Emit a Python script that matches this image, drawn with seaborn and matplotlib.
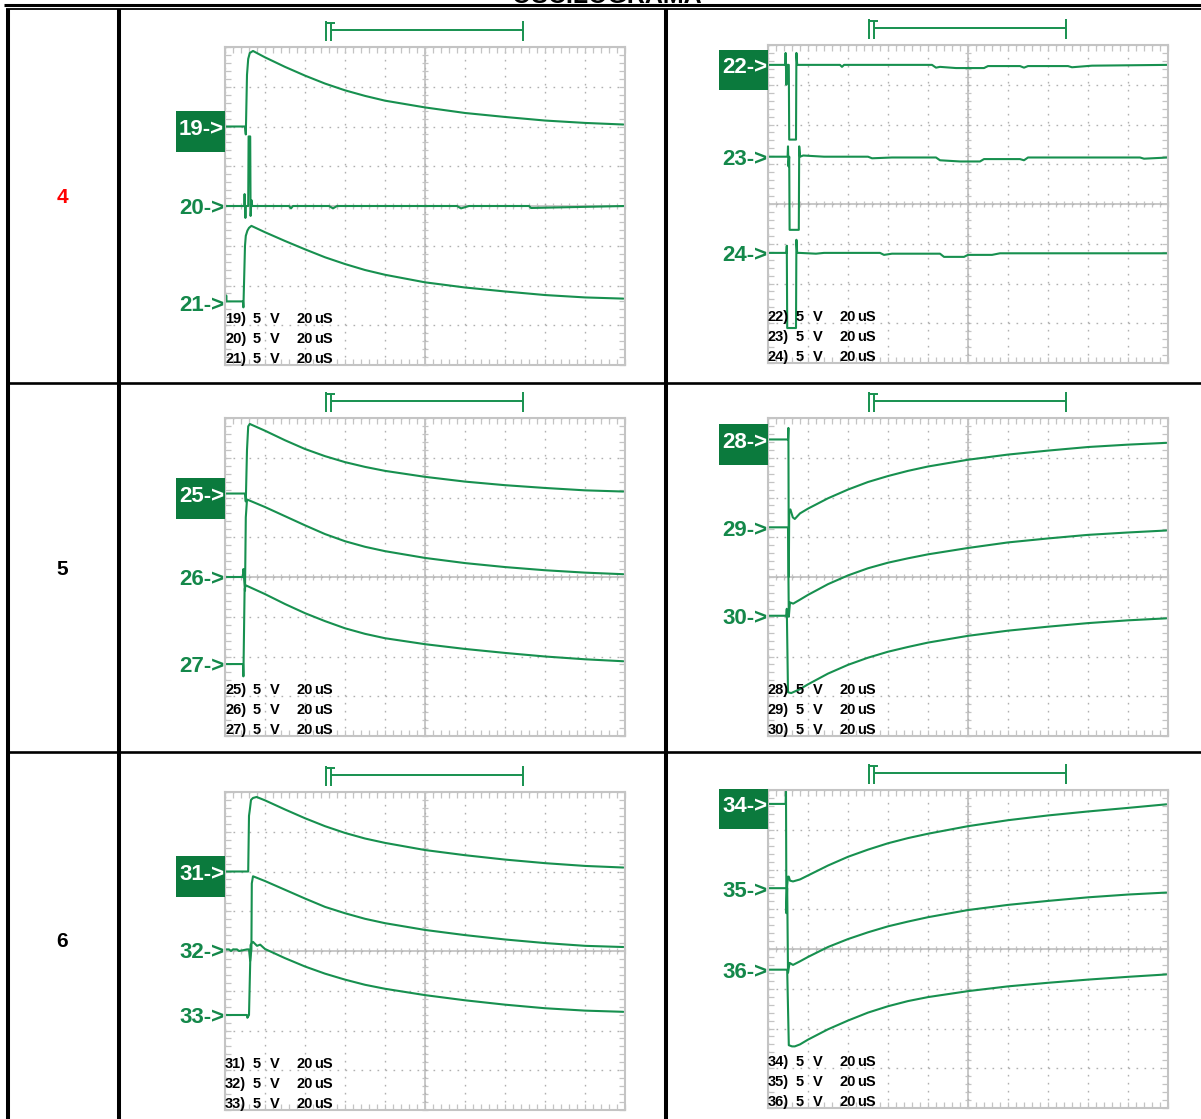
import matplotlib
matplotlib.use("Agg")
import matplotlib.pyplot as plt
from matplotlib.patches import Rectangle
from matplotlib.ticker import MultipleLocator
import seaborn as sns

# ---------------- data (units = scope divisions) ----------------
title = "OSCILOGRAMA"
row_labels = ["4", "5", "6"]
row_label_colors = ["#ff0000", "#000000", "#000000"]
volts_per_div = "5 V"
time_per_div = "20 uS"
trigger_start = 2.52
trigger_end = 7.46

ch19_t = [0, 0.50, 0.52, 0.55, 0.58, 0.62, 0.70, 1.0, 1.5, 2.0, 2.5, 3.0, 3.5, 4.0, 5.0, 6.0, 7.0, 8.0, 9.0, 9.96]
ch19_v = [2.0, 2.0, 1.8, 3.3, 3.7, 3.85, 3.9, 3.74, 3.50, 3.28, 3.08, 2.91, 2.77, 2.65, 2.48, 2.34, 2.24, 2.15, 2.09, 2.05]
ch20_t = [0, 0.48, 0.49, 0.51, 0.52, 0.58, 0.59, 0.63, 0.64, 0.66, 0.68, 0.72, 1.6, 1.65, 1.7, 2.6, 2.7, 2.8, 5.8, 5.9, 6.1, 7.6, 7.65, 10]
ch20_v = [0, 0, 0.3, -0.3, 0, 0, 1.75, 1.75, -0.25, 0.15, 0, 0, 0, -0.06, 0, 0, -0.06, 0, 0, -0.06, 0, 0, -0.05, 0]
ch21_t = [0, 0.02, 0.03, 0.04, 0.45, 0.46, 0.50, 0.52, 0.56, 0.60, 0.66, 1.0, 1.5, 2.0, 2.5, 3.0, 3.5, 4.0, 5.0, 6.0, 7.0, 8.0, 9.0, 9.96]
ch21_v = [-2.4, -2.4, -2.25, -2.4, -2.4, -2.55, -1.0, -0.75, -0.62, -0.55, -0.5, -0.66, -0.88, -1.09, -1.29, -1.46, -1.61, -1.73, -1.92, -2.05, -2.15, -2.24, -2.30, -2.33]

ch22_t = [0, 0.43, 0.44, 0.46, 0.47, 0.52, 0.53, 0.70, 0.71, 0.73, 0.78, 1.80, 1.85, 1.90, 2.10, 4.10, 4.20, 4.30, 4.70, 5.40, 5.50, 6.30, 6.40, 6.50, 7.50, 7.60, 8.10, 10.0]
ch22_v = [3.5, 3.5, 3.8, 3.0, 3.5, 3.5, 1.62, 1.62, 3.8, 3.5, 3.5, 3.5, 3.45, 3.5, 3.5, 3.5, 3.43, 3.45, 3.42, 3.42, 3.47, 3.47, 3.43, 3.47, 3.47, 3.44, 3.48, 3.5]
ch23_t = [0, 0.49, 0.50, 0.51, 0.53, 0.54, 0.77, 0.78, 0.80, 0.88, 1.4, 2.5, 2.6, 3.1, 4.2, 4.3, 4.8, 5.3, 5.4, 6.3, 6.4, 6.5, 9.3, 9.4, 10]
ch23_v = [1.19, 1.19, 1.45, 0.95, 1.19, -0.65, -0.65, 1.45, 1.19, 1.22, 1.19, 1.19, 1.15, 1.17, 1.17, 1.1, 1.07, 1.07, 1.13, 1.13, 1.1, 1.17, 1.17, 1.14, 1.17]
ch24_t = [0, 0.46, 0.47, 0.48, 0.70, 0.71, 0.73, 0.79, 1.2, 1.4, 2.8, 2.9, 3.1, 4.3, 4.4, 4.9, 5.0, 5.6, 5.8, 10]
ch24_v = [-1.23, -1.23, -1.05, -3.12, -3.12, -0.9, -1.23, -1.23, -1.25, -1.23, -1.23, -1.28, -1.25, -1.25, -1.33, -1.33, -1.28, -1.28, -1.24, -1.24]

ch25_t = [0, 0.50, 0.52, 0.55, 0.58, 0.62, 1.0, 1.5, 2.0, 2.5, 3.0, 3.5, 4.0, 5.0, 6.0, 7.0, 8.0, 9.0, 9.96]
ch25_v = [2.1, 2.1, 1.9, 3.2, 3.79, 3.85, 3.68, 3.44, 3.22, 3.04, 2.89, 2.77, 2.67, 2.52, 2.40, 2.31, 2.24, 2.18, 2.15]
ch26_t = [0, 0.45, 0.46, 0.50, 0.52, 0.55, 1.0, 1.5, 2.0, 2.5, 3.0, 3.5, 4.0, 5.0, 6.0, 7.0, 8.0, 9.0, 9.96]
ch26_v = [0, 0, 0.2, -0.35, 1.5, 1.95, 1.76, 1.53, 1.30, 1.08, 0.90, 0.76, 0.65, 0.48, 0.35, 0.25, 0.17, 0.11, 0.07]
ch27_t = [0, 0.40, 0.45, 0.46, 0.49, 0.52, 1.0, 1.5, 2.0, 2.5, 3.0, 3.5, 4.0, 5.0, 6.0, 7.0, 8.0, 9.0, 9.96]
ch27_v = [-2.19, -2.19, -2.19, -2.5, -0.3, -0.21, -0.43, -0.68, -0.91, -1.11, -1.29, -1.43, -1.54, -1.69, -1.81, -1.91, -2.0, -2.07, -2.12]

ch28_t = [0, 0.50, 0.51, 0.52, 0.53, 0.56, 0.62, 0.67, 0.8, 1.0, 1.5, 2.0, 2.5, 3.0, 3.5, 4.0, 5.0, 6.0, 7.0, 8.0, 9.0, 9.96]
ch28_v = [3.46, 3.46, 3.75, 0.0, 1.6, 1.7, 1.5, 1.46, 1.6, 1.72, 1.98, 2.2, 2.39, 2.54, 2.67, 2.78, 2.95, 3.08, 3.18, 3.27, 3.33, 3.375]
ch29_t = [0, 0.48, 0.50, 0.52, 0.55, 0.63, 0.8, 1.0, 1.5, 2.0, 2.5, 3.0, 3.5, 4.0, 5.0, 6.0, 7.0, 8.0, 9.0, 9.96]
ch29_v = [1.25, 1.25, 1.25, -1.0, -0.64, -0.67, -0.57, -0.45, -0.18, 0.04, 0.22, 0.36, 0.47, 0.57, 0.73, 0.87, 0.97, 1.06, 1.12, 1.17]
ch30_t = [0, 0.46, 0.47, 0.50, 0.58, 0.8, 1.0, 1.5, 2.0, 2.5, 3.0, 3.5, 4.0, 5.0, 6.0, 7.0, 8.0, 9.0, 9.96]
ch30_v = [-0.975, -0.975, -0.8, -2.9, -2.92, -2.82, -2.7, -2.43, -2.21, -2.03, -1.88, -1.76, -1.65, -1.48, -1.35, -1.25, -1.16, -1.09, -1.04]

ch31_t = [0, 0.58, 0.60, 0.62, 0.65, 0.70, 0.79, 1.0, 1.5, 2.0, 2.5, 3.0, 3.5, 4.0, 5.0, 6.0, 7.0, 8.0, 9.0, 9.96]
ch31_v = [2.0, 2.0, 3.4, 3.55, 3.8, 3.85, 3.875, 3.79, 3.56, 3.34, 3.14, 2.97, 2.83, 2.72, 2.54, 2.41, 2.30, 2.21, 2.14, 2.10]
ch32_t = [0, 0.1, 0.15, 0.2, 0.3, 0.35, 0.55, 0.60, 0.63, 0.66, 0.67, 0.70, 1.0, 1.5, 2.0, 2.5, 3.0, 3.5, 4.0, 5.0, 6.0, 7.0, 8.0, 9.0, 9.96]
ch32_v = [0.04, 0.04, 0.0, 0.04, 0.04, 0.0, 0.04, 0.04, -0.25, 0.04, 1.7, 1.88, 1.76, 1.54, 1.32, 1.11, 0.95, 0.81, 0.70, 0.53, 0.40, 0.29, 0.20, 0.13, 0.10]
ch33_t = [0, 0.55, 0.56, 0.60, 0.64, 0.66, 0.70, 0.80, 0.88, 1.0, 1.5, 2.0, 2.5, 3.0, 3.5, 4.0, 5.0, 6.0, 7.0, 8.0, 9.0, 9.96]
ch33_v = [-1.61, -1.61, -1.68, -1.61, 0.15, 0.19, 0.23, 0.13, 0.16, 0.05, -0.18, -0.39, -0.57, -0.72, -0.85, -0.95, -1.11, -1.24, -1.35, -1.44, -1.50, -1.53]

ch34_t = [0, 0.44, 0.45, 0.46, 0.48, 0.50, 0.52, 0.55, 0.625, 0.8, 1.0, 1.5, 2.0, 2.5, 3.0, 3.5, 4.0, 5.0, 6.0, 7.0, 8.0, 9.0, 9.96]
ch34_v = [3.65, 3.65, 3.96, 0.9, 1.6, 1.82, 1.82, 1.72, 1.70, 1.75, 1.85, 2.10, 2.32, 2.50, 2.66, 2.79, 2.90, 3.09, 3.24, 3.36, 3.46, 3.55, 3.64]
ch35_t = [0, 0.47, 0.48, 0.50, 0.54, 0.625, 0.8, 1.0, 1.5, 2.0, 2.5, 3.0, 3.5, 4.0, 5.0, 6.0, 7.0, 8.0, 9.0, 9.96]
ch35_v = [1.53, 1.53, 1.53, -0.6, -0.35, -0.4, -0.31, -0.2, 0.05, 0.25, 0.42, 0.57, 0.69, 0.80, 0.98, 1.11, 1.21, 1.30, 1.37, 1.42]
ch36_t = [0, 0.47, 0.48, 0.52, 0.60, 0.67, 0.8, 1.0, 1.5, 2.0, 2.5, 3.0, 3.5, 4.0, 5.0, 6.0, 7.0, 8.0, 9.0, 9.96]
ch36_v = [-0.52, -0.52, -0.52, -2.42, -2.45, -2.45, -2.40, -2.28, -2.02, -1.80, -1.60, -1.44, -1.31, -1.21, -1.06, -0.94, -0.85, -0.77, -0.70, -0.64]

channel_offsets = {19: 2.0, 20: 0.0, 21: -2.42, 22: 3.5, 23: 1.19, 24: -1.23,
                   25: 2.1, 26: 0.0, 27: -2.19, 28: 3.46, 29: 1.25, 30: -0.975,
                   31: 2.0, 32: 0.04, 33: -1.61, 34: 3.65, 35: 1.53, 36: -0.52}
panel_channels = [[19, 20, 21], [22, 23, 24], [25, 26, 27],
                  [28, 29, 30], [31, 32, 33], [34, 35, 36]]

traces = {
    19: (ch19_t, ch19_v), 20: (ch20_t, ch20_v), 21: (ch21_t, ch21_v),
    22: (ch22_t, ch22_v), 23: (ch23_t, ch23_v), 24: (ch24_t, ch24_v),
    25: (ch25_t, ch25_v), 26: (ch26_t, ch26_v), 27: (ch27_t, ch27_v),
    28: (ch28_t, ch28_v), 29: (ch29_t, ch29_v), 30: (ch30_t, ch30_v),
    31: (ch31_t, ch31_v), 32: (ch32_t, ch32_v), 33: (ch33_t, ch33_v),
    34: (ch34_t, ch34_v), 35: (ch35_t, ch35_v), 36: (ch36_t, ch36_v),
}

# ---------------- layout / style ----------------
W_PX, H_PX = 1201, 1119
panel_px = [(225, 47), (768, 45), (225, 418), (768, 418), (225, 792), (768, 790)]
PW, PH = 400, 318
TRACE = "#17904f"
LABEL = "#14884a"
BOX = "#0b7a3d"
GRID = "#c4c4c4"
DOT = "#b0b0b0"

sns.set_theme(style="white")
plt.rcParams["font.family"] = ["Liberation Sans", "DejaVu Sans"]

fig = plt.figure(figsize=(W_PX / 100, H_PX / 100), dpi=100)
fig.patch.set_facecolor("white")

# background axes for the table (pixel coordinates)
bg = fig.add_axes([0, 0, 1, 1], zorder=-5)
bg.set_xlim(0, W_PX)
bg.set_ylim(H_PX, 0)
bg.axis("off")


def hline(y, x0, x1, lw):
    bg.plot([x0, x1], [y, y], color="black", lw=lw, solid_capstyle="butt")


def vline(x, y0, y1, lw):
    bg.plot([x, x], [y0, y1], color="black", lw=lw, solid_capstyle="butt")


hline(5.4, 4, W_PX, 2.2)
hline(9.4, 6, W_PX, 1.3)
vline(8, 8.5, H_PX, 2.9)
vline(118.7, 9, H_PX, 2.9)
vline(666.3, 9, H_PX, 2.9)
hline(383, 8, W_PX, 1.9)
hline(752, 8, W_PX, 1.9)

# the table title is cut by the top edge, as in the source picture
bg.text(607, 3.0, title, ha="center", va="baseline", fontsize=18,
        fontweight="bold", color="black")
for lab, col, yc in zip(row_labels, row_label_colors, [196, 568, 940]):
    bg.text(62, yc + 7, lab, ha="center", va="baseline", fontsize=15,
            fontweight="bold", color=col)


def fig_rect(px, py):
    return [px / W_PX, 1 - (py + PH) / H_PX, PW / W_PX, PH / H_PX]


for (px, py), chans in zip(panel_px, panel_channels):
    rect = fig_rect(px, py)

    # bottom layer: white face + centre cross with ticks
    axc = fig.add_axes(rect, zorder=0)
    axc.set_facecolor("white")
    axc.set_xlim(0, 10)
    axc.set_ylim(-4, 4)
    axc.spines["left"].set_position(("data", 5))
    axc.spines["bottom"].set_position(("data", 0))
    axc.spines["top"].set_visible(False)
    axc.spines["right"].set_visible(False)
    for s in ("left", "bottom"):
        axc.spines[s].set_color(GRID)
        axc.spines[s].set_linewidth(1.3)
    for axis in (axc.xaxis, axc.yaxis):
        axis.set_major_locator(MultipleLocator(1))
        axis.set_minor_locator(MultipleLocator(0.2))
    axc.tick_params(which="both", direction="inout", length=5, width=0.9,
                    color=GRID, labelbottom=False, labelleft=False,
                    bottom=True, left=True, top=False, right=False)

    # top layer: frame, dotted grid, traces
    ax = fig.add_axes(rect, zorder=1)
    ax.patch.set_alpha(0)
    ax.set_xlim(0, 10)
    ax.set_ylim(-4, 4)
    for s in ax.spines.values():
        s.set_visible(True)
        s.set_color(GRID)
        s.set_linewidth(1.5)
    for axis in (ax.xaxis, ax.yaxis):
        axis.set_major_locator(MultipleLocator(1))
        axis.set_minor_locator(MultipleLocator(0.2))
    ax.tick_params(which="both", direction="in", length=4, width=0.9,
                   color=GRID, top=True, right=True, bottom=True, left=True,
                   labelbottom=False, labelleft=False)
    ax.grid(which="major", color=DOT, linestyle=(0, (1.2, 4.56)), linewidth=1.0)
    ax.set_axisbelow(True)

    for ch in chans:
        t, v = traces[ch]
        sns.lineplot(x=t, y=v, ax=ax, color=TRACE, linewidth=1.5,
                     sort=False, estimator=None, legend=False)
    ax.set_xlim(0, 10)
    ax.set_ylim(-4, 4)
    ax.set_xlabel("")
    ax.set_ylabel("")

    # channel markers
    for i, ch in enumerate(chans):
        off = channel_offsets[ch]
        if i == 0:
            ax.add_patch(Rectangle((-1.22, off - 0.63), 1.22, 1.01,
                                   facecolor=BOX, edgecolor="none",
                                   clip_on=False, zorder=3))
            col = "white"
        else:
            col = LABEL
        ax.text(-0.02, off - 0.21, f"{ch}->", ha="right", va="baseline",
                fontsize=16, fontweight="bold", color=col, clip_on=False, zorder=4)

    # per-channel scale text
    for i, ch in enumerate(chans):
        yb = -2.95 - 0.5 * i
        for xx, s in zip([0.0, 0.7, 1.12, 1.78, 2.24],
                         [f"{ch})", volts_per_div.split()[0], volts_per_div.split()[1],
                          time_per_div.split()[0], time_per_div.split()[1]]):
            ax.text(xx, yb, s, ha="left", va="baseline", fontsize=10.5,
                    fontweight="bold", color="black", zorder=5)

    # trigger / time cursor marker above the grid
    kw = dict(color=TRACE, lw=1.4, clip_on=False, solid_capstyle="butt")
    ax.plot([trigger_start, trigger_start], [4.16, 4.66], **kw)
    ax.plot([trigger_start + 0.12, trigger_start + 0.12], [4.16, 4.61], **kw)
    ax.plot([trigger_start, trigger_start + 0.23], [4.61, 4.61], **kw)
    ax.plot([trigger_start + 0.12, trigger_end], [4.43, 4.43], **kw)
    ax.plot([trigger_end, trigger_end], [4.16, 4.66], **kw)

fig.savefig("out.png", dpi=100)
